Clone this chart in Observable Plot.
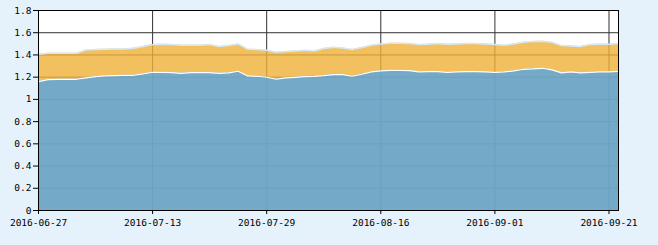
<!DOCTYPE html>
<html>
<head>
<meta charset="utf-8">
<script src="https://cdn.jsdelivr.net/npm/d3@7"></script>
<script src="https://cdn.jsdelivr.net/npm/@observablehq/plot@0.6"></script>
<style>
  html, body { margin: 0; padding: 0; background: #e6f2fb; }
  #chart { width: 658px; height: 245px; }
</style>
</head>
<body>
<div id="chart"></div>
<script>
const dates = [
  "2016-06-27","2016-06-28","2016-06-29","2016-06-30","2016-07-01",
  "2016-07-04","2016-07-05","2016-07-06","2016-07-07","2016-07-08",
  "2016-07-11","2016-07-12","2016-07-13","2016-07-14","2016-07-15",
  "2016-07-18","2016-07-19","2016-07-20","2016-07-21","2016-07-22",
  "2016-07-25","2016-07-26","2016-07-27","2016-07-28","2016-07-29",
  "2016-08-01","2016-08-02","2016-08-03","2016-08-04","2016-08-05",
  "2016-08-08","2016-08-09","2016-08-10","2016-08-11","2016-08-12",
  "2016-08-15","2016-08-16","2016-08-17","2016-08-18","2016-08-19",
  "2016-08-22","2016-08-23","2016-08-24","2016-08-25","2016-08-26",
  "2016-08-29","2016-08-30","2016-08-31","2016-09-01","2016-09-02",
  "2016-09-05","2016-09-06","2016-09-07","2016-09-08","2016-09-09",
  "2016-09-12","2016-09-13","2016-09-14",
  "2016-09-19","2016-09-20","2016-09-21","2016-09-22"
];

const blueSeries = [
  1.160,1.178,1.181,1.181,1.181,
  1.193,1.205,1.211,1.214,1.217,
  1.217,1.229,1.244,1.244,1.241,
  1.235,1.241,1.241,1.241,1.235,
  1.238,1.253,1.211,1.208,1.199,
  1.181,1.193,1.199,1.205,1.208,
  1.214,1.223,1.223,1.208,1.226,
  1.247,1.256,1.262,1.262,1.259,
  1.247,1.250,1.250,1.244,1.247,
  1.250,1.250,1.247,1.244,1.247,
  1.256,1.271,1.274,1.280,1.265,
  1.238,1.247,1.238,
  1.244,1.247,1.247,1.253
];

const orangeSeries = [
  1.406,1.415,1.415,1.415,1.415,
  1.445,1.448,1.451,1.454,1.454,
  1.460,1.475,1.493,1.496,1.493,
  1.487,1.487,1.487,1.493,1.475,
  1.484,1.499,1.451,1.448,1.442,
  1.424,1.430,1.436,1.442,1.436,
  1.457,1.469,1.463,1.448,1.466,
  1.487,1.499,1.505,1.505,1.502,
  1.493,1.496,1.502,1.496,1.499,
  1.502,1.502,1.499,1.493,1.487,
  1.499,1.514,1.520,1.523,1.514,
  1.484,1.481,1.475,
  1.493,1.496,1.496,1.502
];

const yTicks = [0, 0.2, 0.4, 0.6, 0.8, 1, 1.2, 1.4, 1.6, 1.8];
const xTicks = ["2016-06-27","2016-07-13","2016-07-29","2016-08-16","2016-09-01","2016-09-21"];

const rows = dates.map((d, i) => ({date: d, blue: blueSeries[i], orange: orangeSeries[i]}));

const chart = Plot.plot({
  width: 658,
  height: 245,
  marginLeft: 38,
  marginRight: 40,
  marginTop: 10,
  marginBottom: 35,
  style: {background: "transparent", fontFamily: "'DejaVu Sans Mono', monospace", fontSize: "9.5px", color: "#000"},
  x: {type: "point", domain: dates, padding: 0, label: null},
  y: {domain: [0, 1.8], label: null},
  marks: [
    Plot.frame({fill: "#ffffff", stroke: null}),
    Plot.gridY(yTicks.slice(1, -1), {stroke: "#333", strokeOpacity: 1}),
    Plot.gridX(xTicks.slice(1), {stroke: "#333", strokeOpacity: 1}),
    Plot.areaY(rows, {x: "date", y: "orange", fill: "#f0b037", fillOpacity: 0.8}),
    Plot.areaY(rows, {x: "date", y: "blue", fill: "#54a3e2", fillOpacity: 0.8}),
    Plot.lineY(rows, {x: "date", y: "orange", stroke: "#d6e8f5", strokeWidth: 1.5}),
    Plot.lineY(rows, {x: "date", y: "blue", stroke: "#ffffff", strokeWidth: 1.2}),
    Plot.axisY(yTicks, {tickSize: 5, tickPadding: 2, tickFormat: d => String(+d.toFixed(1)), stroke: "#000", label: null}),
    Plot.axisX(xTicks, {tickSize: 4, tickPadding: 5, stroke: "#000", label: null}),
    Plot.frame({stroke: "#000"})
  ]
});
document.getElementById("chart").appendChild(chart);
</script>
</body>
</html>
